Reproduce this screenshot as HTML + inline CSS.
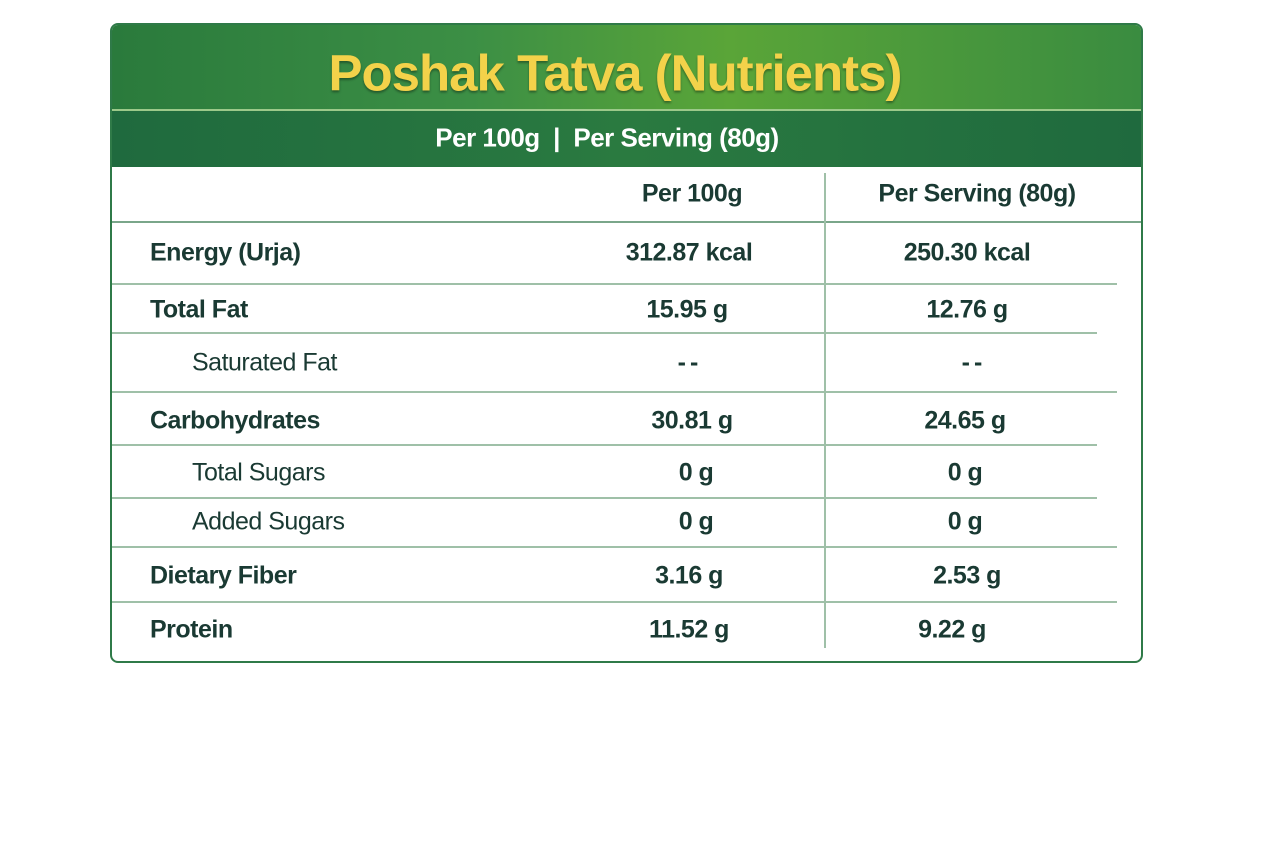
<!DOCTYPE html>
<html><head><style>
body{margin:0;width:1280px;height:853px;background:#fff;font-family:"Liberation Sans",sans-serif;position:relative;overflow:hidden}
.card{position:absolute;left:110px;top:23px;width:1029px;height:636px;border:2px solid #2f7a48;border-radius:8px;overflow:hidden;background:#fff}
.h1{position:absolute;left:0;top:0;width:100%;height:84px;background:linear-gradient(90deg,#2a7a3c 0%,#3c8f45 35%,#5aa538 60%,#3a8c40 100%)}
.h2{position:absolute;left:0;top:84px;width:100%;height:56px;background:linear-gradient(90deg,#1f6a3e,#2a7a40 50%,#1f6a3e);border-top:2px solid #9cc98a}
.t{position:absolute;white-space:nowrap;color:#1a3a33;font-weight:bold;font-size:25px;transform:translate(-50%,-50%);letter-spacing:-0.5px}
.l{position:absolute;white-space:nowrap;color:#1a3a33;font-weight:bold;font-size:25px;transform:translateY(-50%);letter-spacing:-0.5px}
.s{font-weight:normal}
.hr{position:absolute;left:0;height:1.5px;background:#9fc0a8}
</style></head><body>
<div class="card">
<div class="h1"></div><div class="h2"></div>
<div class="t" style="left:503px;top:48px;font-size:51px;color:#f3d24a;text-shadow:0 2px 2px rgba(0,0,0,.35);letter-spacing:-1px">Poshak Tatva (Nutrients)</div>
<div class="t" style="left:495px;top:113px;font-size:26px;color:#fff">Per 100g &nbsp;|&nbsp; Per Serving (80g)</div>
<div class="hr" style="top:196px;width:1029px;background:#7aa68a"></div>
<div class="hr" style="top:258px;width:1005px"></div>
<div class="hr" style="top:307px;width:985px"></div>
<div class="hr" style="top:366px;width:1005px"></div>
<div class="hr" style="top:419px;width:985px"></div>
<div class="hr" style="top:472px;width:985px"></div>
<div class="hr" style="top:521px;width:1005px"></div>
<div class="hr" style="top:576px;width:1005px"></div>
<div style="position:absolute;left:712px;top:148px;width:1.5px;height:475px;background:#9fc0a8"></div>
<div class="t" style="left:580px;top:169px">Per 100g</div>
<div class="t" style="left:865px;top:169px">Per Serving (80g)</div>
<div class="l" style="left:38px;top:228px">Energy (Urja)</div>
<div class="l" style="left:38px;top:285px">Total Fat</div>
<div class="l s" style="left:80px;top:338px">Saturated Fat</div>
<div class="l" style="left:38px;top:396px">Carbohydrates</div>
<div class="l s" style="left:80px;top:448px">Total Sugars</div>
<div class="l s" style="left:80px;top:497px">Added Sugars</div>
<div class="l" style="left:38px;top:551px">Dietary Fiber</div>
<div class="l" style="left:38px;top:605px">Protein</div>
<div class="t" style="left:577px;top:228px">312.87 kcal</div>
<div class="t" style="left:575px;top:285px">15.95 g</div>
<div class="t" style="left:578px;top:338px;letter-spacing:4px">--</div>
<div class="t" style="left:580px;top:396px">30.81 g</div>
<div class="t" style="left:584px;top:448px">0 g</div>
<div class="t" style="left:584px;top:497px">0 g</div>
<div class="t" style="left:577px;top:551px">3.16 g</div>
<div class="t" style="left:577px;top:605px">11.52 g</div>
<div class="t" style="left:855px;top:228px">250.30 kcal</div>
<div class="t" style="left:855px;top:285px">12.76 g</div>
<div class="t" style="left:862px;top:338px;letter-spacing:4px">--</div>
<div class="t" style="left:853px;top:396px">24.65 g</div>
<div class="t" style="left:853px;top:448px">0 g</div>
<div class="t" style="left:853px;top:497px">0 g</div>
<div class="t" style="left:855px;top:551px">2.53 g</div>
<div class="t" style="left:840px;top:605px">9.22 g</div>
</div>
</body></html>
